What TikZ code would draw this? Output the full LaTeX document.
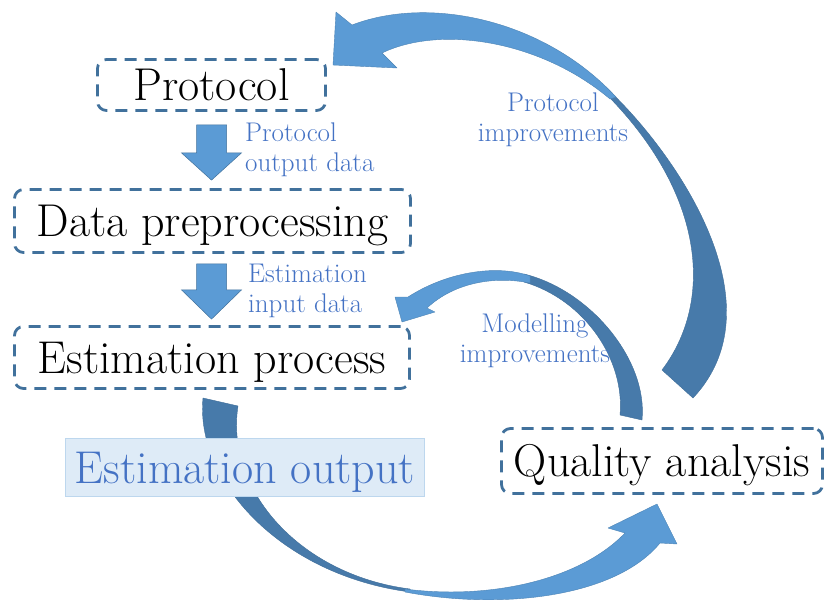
\documentclass[tikz,border=0pt]{standalone}
\usetikzlibrary{calc}
\definecolor{boxline}{HTML}{41719C}
\definecolor{arrlight}{HTML}{5B9BD5}
\definecolor{arrdark}{HTML}{477AAA}
\definecolor{labelblue}{HTML}{4472C4}
\definecolor{outfill}{HTML}{DEEBF7}
\definecolor{outborder}{HTML}{BDD7EE}
\tikzset{
  stagebox/.style={draw=boxline, line width=2.8pt, dash pattern=on 12pt off 8pt,
    rounded corners=9pt, font=\fontsize{46}{54}\selectfont, text height=31.4pt,
    text depth=0pt, inner sep=0pt},
  lbl/.style={text=labelblue, font=\fontsize{27}{30}\selectfont, inner sep=0pt},
  blockarr/.style={fill=arrlight, draw=boxline, line width=0.5pt, line join=miter},
  lightpart/.style={fill=arrlight, draw=arrlight!85!black, line width=0.4pt, line join=round},
  darkpart/.style={fill=arrdark, draw=arrdark!90!black, line width=0.4pt, line join=round},
}
\begin{document}
\begin{tikzpicture}[x=1pt,y=-1pt]
\useasboundingbox (0,0) rectangle (825,603);

% curved arrows (drawn first)
% Protocol improvements
\fill[darkpart] (603,85) .. controls (665,140) and (785,300) .. (693,398) -- (662,370)
  .. controls (715,300) and (705,190) .. (600,88) -- cycle;
\fill[lightpart] (333,65) -- (336,12) -- (352,25) .. controls (430,-5) and (545,20) .. (616,97) -- (610,99)
  .. controls (540,40) and (440,25) .. (382,53) -- (397,68) -- cycle;

% Modelling improvements
\fill[darkpart] (524,274) .. controls (590,290) and (648,360) .. (642,420) -- (620,415)
  .. controls (625,360) and (585,300) .. (524,282) -- cycle;
\fill[lightpart] (402,322) -- (395,297) -- (408,297) .. controls (450,270) and (500,265) .. (530,276) -- (530,283)
  .. controls (495,276) and (455,282) .. (427,308) -- (435,312) -- cycle;

% Estimation output -> Quality analysis
\fill[darkpart] (203,398) .. controls (195,480) and (280,575) .. (410,592) -- (410,589)
  .. controls (300,575) and (225,490) .. (238,406) -- cycle;
\fill[lightpart] (405,592) .. controls (500,610) and (615,598) .. (660,543) -- (677,544) -- (657,504) -- (608,528)
  -- (625,533) .. controls (580,580) and (490,600) .. (405,589) -- cycle;

% boxes
\node[stagebox, minimum width=228pt, minimum height=51pt] (proto) at (211.5,85) {Protocol};
\node[stagebox, minimum width=396pt, minimum height=63pt] (prep) at (212.5,221) {Data preprocessing};
\node[stagebox, minimum width=395pt, minimum height=62pt] (est) at (212,357.5) {Estimation process};
\node[stagebox, minimum width=321pt, minimum height=65pt] (qual) at (662,461) {Quality analysis};
\node[fill=outfill, draw=outborder, line width=1pt, minimum width=359pt, minimum height=58pt,
  text=labelblue, font=\fontsize{46}{54}\selectfont, text height=31.4pt, text depth=0pt, inner sep=0pt]
  (out) at (245,467.5) {Estimation output};

% block arrows between stages
\coordinate (a1s) at ($(proto.south)+(0,13)$);
\coordinate (a1t) at ($(proto.south|-prep.north)+(0,-8)$);
\fill[blockarr] ($(a1s)+(-15,0)$) -- ($(a1s)+(15,0)$) -- ($(a1s)+(15,28)$) -- ($(a1s)+(30,28)$) -- (a1t)
  -- ($(a1s)+(-30,28)$) -- ($(a1s)+(-15,28)$) -- cycle;
\coordinate (a2s) at ($(prep.south)+(-1,10)$);
\coordinate (a2t) at ($(a2s|-est.north)+(0,-6)$);
\fill[blockarr] ($(a2s)+(-15,0)$) -- ($(a2s)+(15,0)$) -- ($(a2s)+(15,26)$) -- ($(a2s)+(30,26)$) -- (a2t)
  -- ($(a2s)+(-30,26)$) -- ($(a2s)+(-15,26)$) -- cycle;

% labels
\node[lbl, anchor=north west, align=left] (l1) at (245,122.8) {Protocol\\output data};
\node[lbl, anchor=north west, align=left] (l2) at (248,264.3) {Estimation\\input data};
\node[lbl, anchor=north, align=center] (l3) at (553,92.3) {Protocol\\improvements};
\node[lbl, anchor=north, align=center] (l4) at (535,313.3) {Modelling\\improvements};
\end{tikzpicture}
\end{document}
